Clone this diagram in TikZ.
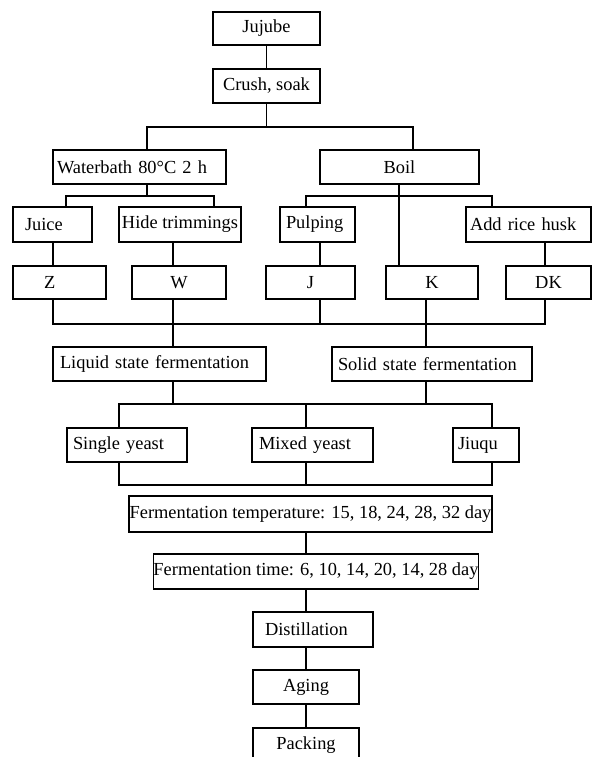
\documentclass[tikz,border=0pt]{standalone}
\usepackage{fontspec}
\setmainfont{Liberation Serif}
\tikzset{
  bx/.style={draw, line width=1.3pt, inner ysep=0pt, inner xsep=0pt, font=\fontsize{18.4}{22}\selectfont},
  ln/.style={line width=1.3pt}
}
\newcommand\flowbox[6]{%
  \node[bx, minimum width={#4-#2}, minimum height={#5-#3}] (#1) at ({(#2+#4)/2},{(#3+#5)/2}) {#6};}
\newcommand\flowboxL[7]{%
  \pgfmathsetmacro\mytw{#4-#2-2*#6}%
  \node[bx, minimum width={#4-#2}, minimum height={#5-#3}, inner xsep=#6pt, text width=\mytw pt, align=left] (#1) at ({(#2+#4)/2},{(#3+#5)/2}) {#7};}
\begin{document}
\begin{tikzpicture}[x=1pt,y=-1pt]
\clip (0,0) rectangle (592,757);
\fill[white] (0,0) rectangle (592,757);
% boxes
\flowbox{jujube}{213}{12}{320}{45}{Jujube}
\flowbox{crush}{213}{69}{320}{103}{Crush, soak}
\flowboxL{water}{53}{150}{226}{184}{4}{Waterbath 80°C 2 h}
\flowbox{boil}{320}{150}{479}{184}{Boil}
\flowboxL{juice}{13}{207}{92}{242}{12}{Juice}
\flowbox{hide}{119}{207}{241}{242}{Hide trimmings}
\flowboxL{pulp}{280}{207}{355}{242}{6}{Pulping}
\flowboxL{rice}{466}{207}{591}{242}{4}{Add rice husk}
\flowboxL{z}{13}{266}{106}{299}{31}{Z}
\flowbox{w}{132}{266}{226}{299}{W}
\flowbox{j}{266}{266}{355}{299}{J}
\flowbox{k}{386}{266}{478}{299}{K}
\flowbox{dk}{506}{266}{591}{299}{DK}
\flowboxL{liquid}{53}{347}{266}{381}{7}{Liquid state fermentation}
\flowboxL{solid}{332}{347}{532}{381}{6}{Solid state fermentation}
\flowboxL{single}{67}{428}{187}{462}{6}{Single yeast}
\flowboxL{mixed}{252}{428}{373}{462}{7}{Mixed yeast}
\flowboxL{jiuqu}{453}{428}{519}{462}{5}{Jiuqu}
\flowbox{ftemp}{129}{496}{492}{532}{Fermentation temperature: 15, 18, 24, 28, 32 day}
\flowbox{ftime}{154}{554}{478}{589}{Fermentation time: 6, 10, 14, 20, 14, 28 day}
\flowboxL{dist}{253}{612}{373}{647}{12}{Distillation}
\flowbox{aging}{253}{670}{359}{704}{Aging}
\flowbox{packing}{253}{728}{359}{762}{Packing}
% coordinates
\coordinate (r1l) at (147,127); \coordinate (r1r) at (413,127);
\coordinate (wd) at (147,196); \coordinate (bd) at (399,196);
\coordinate (r2a) at (66,196); \coordinate (r2b) at (214,196);
\coordinate (r2c) at (306,196); \coordinate (r2d) at (492,196);
\coordinate (cz) at (53,324); \coordinate (cw) at (173,324);
\coordinate (cj) at (320,324); \coordinate (ck) at (426,324);
\coordinate (cdk) at (545,324);
\coordinate (ya) at (119,404); \coordinate (ym) at (306,404); \coordinate (yj) at (492,404);
\coordinate (la) at (119,485); \coordinate (lm) at (306,485); \coordinate (lj) at (492,485);
% connectors
\draw[ln] (jujube.south) -- (crush.north);
\draw[ln] (crush.south) -- (crush.south |- r1l);
\draw[ln] (water.north -| r1l) |- (r1r) -- (boil.north -| r1r);
\draw[ln] (water.south -| wd) -- (wd);
\draw[ln] (juice.north -| r2a) |- (r2b) -- (hide.north -| r2b);
\draw[ln] (boil.south -| bd) -- (k.north -| bd);
\draw[ln] (pulp.north -| r2c) |- (r2d) -- (rice.north -| r2d);
\draw[ln] (juice.south -| cz) -- (z.north -| cz);
\draw[ln] (hide.south -| cw) -- (w.north -| cw);
\draw[ln] (pulp.south -| cj) -- (j.north -| cj);
\draw[ln] (rice.south -| cdk) -- (dk.north -| cdk);
\draw[ln] (z.south -| cz) -- (cz) -- (cdk) -- (dk.south -| cdk);
\draw[ln] (w.south -| cw) -- (liquid.north -| cw);
\draw[ln] (j.south -| cj) -- (cj);
\draw[ln] (k.south -| ck) -- (solid.north -| ck);
\draw[ln] (liquid.south -| cw) -- (cw |- ya);
\draw[ln] (solid.south -| ck) -- (ck |- ya);
\draw[ln] (single.north -| ya) |- (yj) -- (jiuqu.north -| yj);
\draw[ln] (mixed.north -| ym) -- (ym);
\draw[ln] (single.south -| la) |- (lj) -- (jiuqu.south -| lj);
\draw[ln] (mixed.south -| lm) -- (lm);
\draw[ln] (ftemp.south -| ym) -- (ftime.north -| ym);
\draw[ln] (ftime.south -| ym) -- (dist.north -| ym);
\draw[ln] (dist.south -| ym) -- (aging.north -| ym);
\draw[ln] (aging.south -| ym) -- (packing.north -| ym);
\end{tikzpicture}
\end{document}
